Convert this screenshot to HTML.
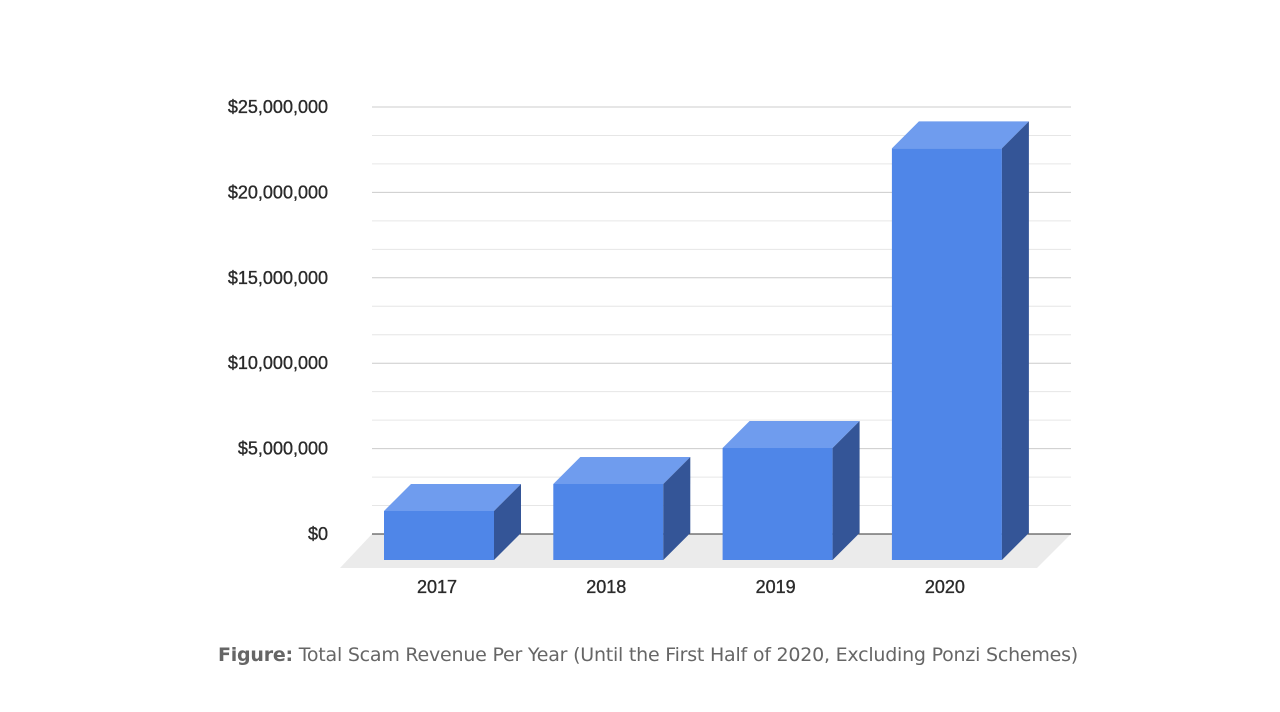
<!DOCTYPE html>
<html><head><meta charset="utf-8"><style>
body{margin:0;background:#fff;width:1280px;height:712px;overflow:hidden;font-family:"Liberation Sans",sans-serif}
svg{position:absolute;left:0;top:0}
#cap{position:absolute;left:8px;width:1280px;top:644px;text-align:center;font-size:19px;color:#666;font-family:"DejaVu Sans","Liberation Sans",sans-serif;letter-spacing:-0.22px}
</style></head><body>
<svg id="chart" width="1280" height="712"></svg>
<div id="cap"><b>Figure:</b> Total Scam Revenue Per Year (Until the First Half of 2020, Excluding Ponzi Schemes)</div>
<script>
const categories=["2017","2018","2019","2020"];
const revenue=[2870000,4450000,6560000,24100000];
const tickValues=[0,5000000,10000000,15000000,20000000,25000000];
const tickLabels=["$0","$5,000,000","$10,000,000","$15,000,000","$20,000,000","$25,000,000"];
const NS="http://www.w3.org/2000/svg";
const svg=document.getElementById('chart');
const yMax=25000000, y0=534, yTop=107, depth=27;
const y=v=>y0-(v/yMax)*(y0-yTop);
const barX=i=>384+i*169.3, bw=110;
function mk(t,a,p){const e=document.createElementNS(NS,t);for(const k in a)e.setAttribute(k,a[k]);(p||svg).appendChild(e);return e;}
let fl=mk('polygon',{points:`340,568 1037,568 1071,534 372,534`,fill:'#ebebeb'});


for(let k=0;k<=15;k++){const v=k*yMax/15;const yy=y(v);const major=k%3===0;
 const l=mk('line',{x1:372,x2:1071,y1:yy,y2:yy,stroke:k===0?'#333':(major?'#cccccc':'#e6e6e6'),'stroke-width':1});
 
 }
tickValues.forEach((v,i)=>{const t=mk('text',{x:328,y:y(v)+6,'text-anchor':'end','font-size':18,fill:'#2a2a2a','stroke':'#2a2a2a','stroke-width':0.35});t.textContent=tickLabels[i];
 
 });
categories.forEach((c,i)=>{
 const x=barX(i), bottom=560, top=bottom-(revenue[i]/yMax)*(y0-yTop);
 const g=mk('g',{});
 
 
 mk('rect',{x:x,y:top,width:bw,height:bottom-top,fill:'#4f86e8'},g);
 mk('polygon',{points:`${x},${top} ${x+depth},${top-depth} ${x+bw+depth},${top-depth} ${x+bw},${top}`,fill:'#6f9cee'},g);
 mk('polygon',{points:`${x+bw},${top} ${x+bw+depth},${top-depth} ${x+bw+depth},${bottom-depth} ${x+bw},${bottom}`,fill:'#345597'},g);
 const t=mk('text',{x:x+bw/2-2,y:593,'text-anchor':'middle','font-size':18,fill:'#2a2a2a','stroke':'#2a2a2a','stroke-width':0.35});t.textContent=c;
 
 
});
</script>
</body></html>
